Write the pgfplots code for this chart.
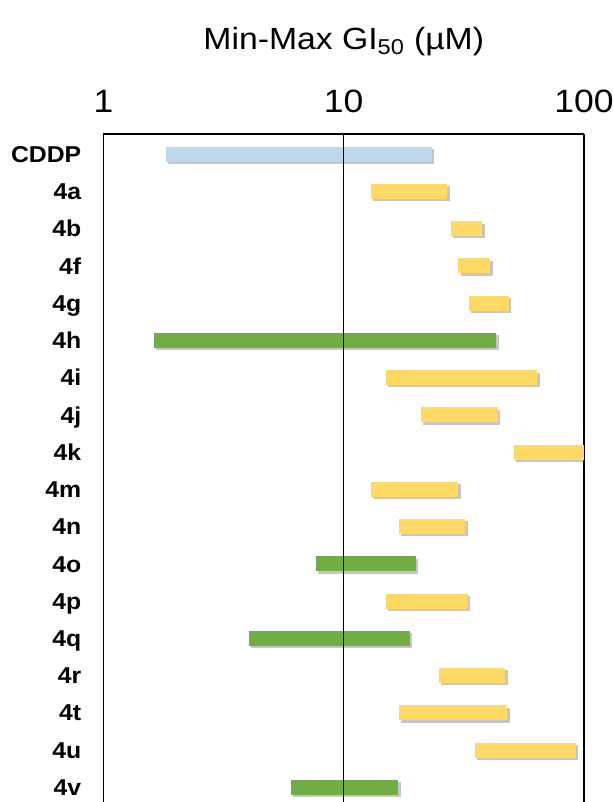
\documentclass[border=0pt]{standalone}
\usepackage{pgfplots}
\pgfplotsset{compat=1.18}
\usepackage{fontspec}
\setmainfont{Liberation Sans}[FakeStretch=1.1]
\newfontfamily\lblfont{Liberation Sans}[FakeStretch=1.08]

\definecolor{cblue}{HTML}{BDD7EE}
\definecolor{cyel}{HTML}{FFD966}
\definecolor{cgreen}{HTML}{70AD47}

% one range bar: thick line with a soft grey shadow
\pgfplotsset{
  rbar/.style={line width=11.2pt, line cap=butt, draw=#1,
    preaction={draw=black!50, opacity=0.45,
      transform canvas={shift={(1.6pt,-1.8pt)}}}},
}

\begin{document}
\begin{tikzpicture}
\begin{axis}[
  scale only axis, width=360.4pt, height=512.3pt,
  xmode=log, xmin=1, xmax=100,
  ymin=-0.54, ymax=17.8, y dir=reverse,
  axis x line=top, axis y line=box,
  axis line style={-, line width=0.9pt, black},
  tick style={draw=none},
  xtick={1,10,100}, xticklabels={1,10,100},
  xticklabel style={font=\fontsize{24.2}{24.2}\selectfont, anchor=base,
    inner sep=0pt, yshift=14.2pt},
  ytick={0,...,17},
  yticklabels={CDDP,4a,4b,4f,4g,4h,4i,4j,4k,4m,4n,4o,4p,4q,4r,4t,4u,4v},
  yticklabel style={font=\lblfont\bfseries\fontsize{17.2}{17.2}\selectfont,
    anchor=east, inner sep=0pt, text height=12.3pt, text depth=0pt,
    xshift=-16.5pt},
  title={Min-Max GI\textsubscript{50} (µM)},
  title style={font=\fontsize{23}{23}\selectfont, anchor=base,
    at={(0.5,1)}, yshift=57pt},
]
\coordinate (tl) at (axis description cs:0,1);

\addplot[rbar=cblue]  coordinates {(1.82,0)  (23.2,0)};
\addplot[rbar=cyel]   coordinates {(13.0,1)  (27.0,1)};
\addplot[rbar=cyel]   coordinates {(28.0,2)  (37.8,2)};
\addplot[rbar=cyel]   coordinates {(30.0,3)  (40.8,3)};
\addplot[rbar=cyel]   coordinates {(33.3,4)  (48.9,4)};
\addplot[rbar=cgreen] coordinates {(1.62,5)  (43.2,5)};
\addplot[rbar=cyel]   coordinates {(15.0,6)  (64.0,6)};
\addplot[rbar=cyel]   coordinates {(21.0,7)  (44.0,7)};
\addplot[rbar=cyel]   coordinates {(51.3,8)  (100,8)};
\addplot[rbar=cyel]   coordinates {(13.0,9)  (30.0,9)};
\addplot[rbar=cyel]   coordinates {(17.0,10) (32.1,10)};
\addplot[rbar=cgreen] coordinates {(7.68,11) (19.9,11)};
\addplot[rbar=cyel]   coordinates {(15.0,12) (33.0,12)};
\addplot[rbar=cgreen] coordinates {(4.04,13) (18.9,13)};
\addplot[rbar=cyel]   coordinates {(25.0,14) (47.1,14)};
\addplot[rbar=cyel]   coordinates {(17.0,15) (48.0,15)};
\addplot[rbar=cyel]   coordinates {(35.3,16) (92.2,16)};
\addplot[rbar=cgreen] coordinates {(6.04,17) (16.9,17)};

% reference line at 10
\addplot[black, line width=0.8pt] coordinates {(10,-1) (10,19)};
\end{axis}
\pgfresetboundingbox
\path[use as bounding box] ([xshift=-77.6pt,yshift=100.5pt]tl)
  rectangle ([xshift=381.4pt,yshift=-501pt]tl);
\end{tikzpicture}
\end{document}
